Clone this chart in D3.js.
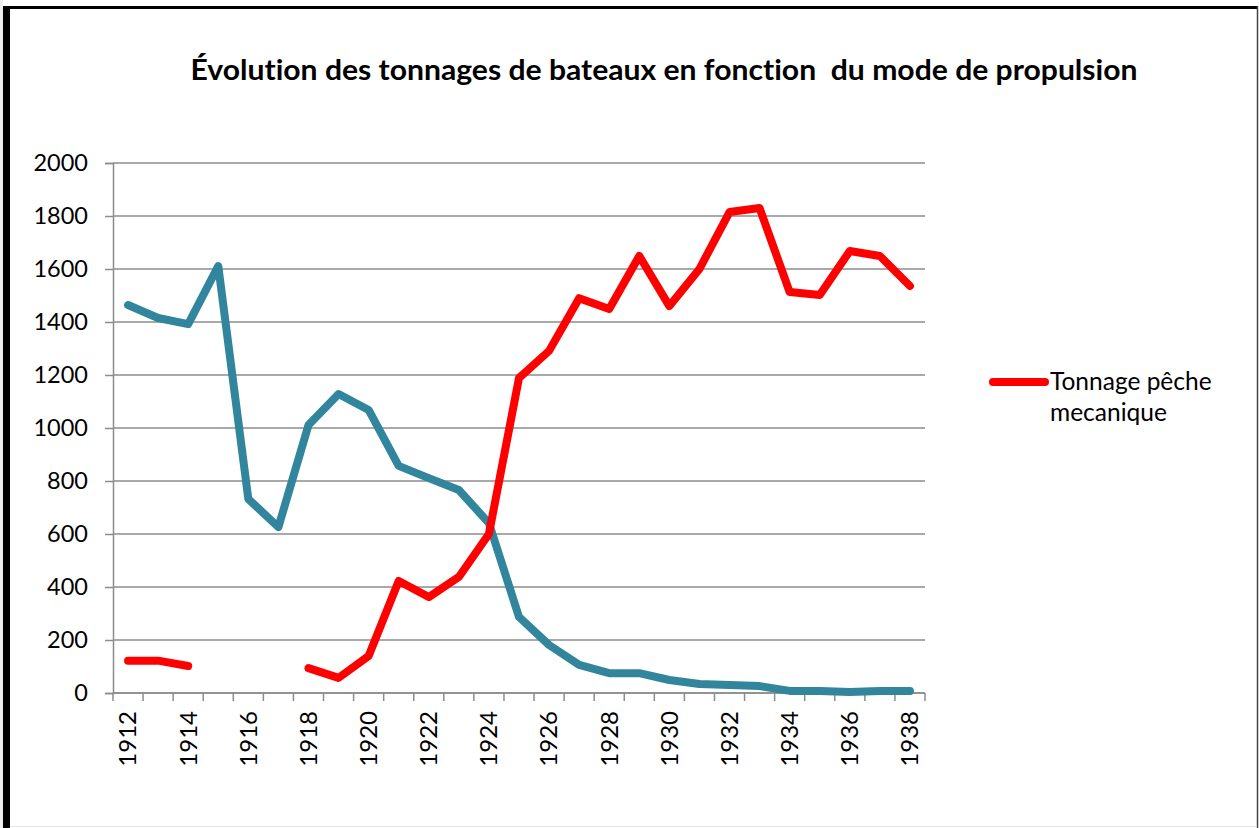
<!DOCTYPE html>
<html>
<head>
<meta charset="utf-8">
<script src="https://cdn.jsdelivr.net/npm/d3@7"></script>
<style>
  html, body { margin: 0; padding: 0; background: #fff; }
  svg { display: block; }
  text { font-family: Lato, "Open Sans", sans-serif; fill: #000; font-variant-ligatures: none; }
</style>
</head>
<body>
<div id="chart"></div>
<script>
const years = d3.range(1912, 1939);
const tickYears = years.filter(y => (y - 1912) % 2 === 0);
const yTicks = [0, 200, 400, 600, 800, 1000, 1200, 1400, 1600, 1800, 2000];

// series without a legend entry (blue)
const tonnageVoile = [1464, 1415, 1392, 1611, 732, 626, 1011, 1128, 1068, 857, 811, 766, 641,
    287, 181, 106, 75, 75, 49, 34, 30, 26, 8, 8, 4, 8, 8];
// "Tonnage pêche mecanique" (red), gap 1915-1917
const tonnageMecanique = [122, 122, 102, null, null, null, 94, 57, 140, 423, 362, 438, 600,
    1189, 1291, 1490, 1449, 1649, 1460, 1600, 1815, 1830, 1513, 1502, 1668, 1649, 1536];

const title = 'Évolution des tonnages de bateaux en fonction\u00a0 du mode de propulsion';
const legendLabel = ['Tonnage pêche', 'mecanique'];

const size = { w: 1259, h: 828 };
const plot = { left: 113, right: 925, top: 163, bottom: 693 };
const gridColor = '#8c8c8c';

const svg = d3.select('#chart').append('svg')
    .attr('width', size.w)
    .attr('height', size.h);

svg.append('rect').attr('width', size.w).attr('height', size.h).attr('fill', '#fff');

// frame
svg.append('rect').attr('x', 0).attr('y', 0).attr('width', 3).attr('height', size.h).attr('fill', '#eeeeee');
svg.append('rect').attr('x', 3).attr('y', 6).attr('width', 7).attr('height', size.h - 6).attr('fill', '#000');
svg.append('rect').attr('x', 3).attr('y', 6).attr('width', 1255).attr('height', 3).attr('fill', '#000');
svg.append('line').attr('x1', 1257.5).attr('x2', 1257.5).attr('y1', 6).attr('y2', size.h)
    .attr('stroke', '#444').attr('stroke-width', 1.5);
svg.append('line').attr('x1', 10).attr('x2', 1257).attr('y1', 826.5).attr('y2', 826.5)
    .attr('stroke', '#e6e6e6').attr('stroke-width', 1);

svg.append('text')
    .attr('x', 664)
    .attr('y', 80)
    .attr('text-anchor', 'middle')
    .attr('font-size', 29)
    .attr('font-weight', 'bold')
    .attr('textLength', 947)
    .attr('lengthAdjust', 'spacingAndGlyphs')
    .text(title);

const x = d3.scaleBand().domain(years).range([plot.left, plot.right]);
const y = d3.scaleLinear().domain([0, 2000]).range([plot.bottom, plot.top]);
const cx = d => x(d) + x.bandwidth() / 2;

// gridlines
svg.append('g')
    .selectAll('line')
    .data(yTicks)
    .enter().append('line')
    .attr('x1', plot.left).attr('x2', plot.right)
    .attr('y1', d => y(d)).attr('y2', d => y(d))
    .attr('stroke', gridColor).attr('stroke-width', 1.5);

// y axis
const yAxis = svg.append('g')
    .attr('transform', `translate(${plot.left}, 0)`)
    .call(d3.axisLeft(y).tickValues(yTicks).tickSize(8).tickPadding(17).tickFormat(d3.format('d')));
yAxis.select('.domain').attr('stroke', gridColor).attr('stroke-width', 1.5);
yAxis.selectAll('.tick line').attr('stroke', gridColor).attr('stroke-width', 1.5);
yAxis.selectAll('.tick text').attr('font-size', 23.5).attr('font-family', 'Lato').attr('fill', '#000');

// x axis: ticks on category boundaries
const xg = svg.append('g');
xg.append('line')
    .attr('x1', plot.left).attr('x2', plot.right)
    .attr('y1', plot.bottom).attr('y2', plot.bottom)
    .attr('stroke', gridColor).attr('stroke-width', 1.5);
xg.selectAll('.xtick')
    .data(years.concat([null]))
    .enter().append('line')
    .attr('x1', d => d === null ? plot.right : x(d))
    .attr('x2', d => d === null ? plot.right : x(d))
    .attr('y1', plot.bottom).attr('y2', plot.bottom + 8)
    .attr('stroke', gridColor).attr('stroke-width', 1.5);
xg.selectAll('.xlabel')
    .data(tickYears)
    .enter().append('text')
    .attr('transform', d => `translate(${cx(d)}, 711) rotate(-90)`)
    .attr('text-anchor', 'end')
    .attr('dy', '0.35em')
    .attr('font-size', 24)
    .text(d => d);

// lines
const line = d3.line()
    .defined(d => d.v !== null)
    .x(d => cx(d.year))
    .y(d => y(d.v));

const series = [
    { values: tonnageVoile, color: '#31859C' },
    { values: tonnageMecanique, color: '#FF0000' }
];

svg.selectAll('.series')
    .data(series)
    .enter().append('path')
    .attr('class', 'series')
    .attr('fill', 'none')
    .attr('stroke', s => s.color)
    .attr('stroke-width', 8)
    .attr('stroke-linejoin', 'round')
    .attr('stroke-linecap', 'round')
    .attr('d', s => line(years.map((year, i) => ({ year, v: s.values[i] }))));

// legend
const lg = svg.append('g');
lg.append('line')
    .attr('x1', 993).attr('x2', 1045)
    .attr('y1', 382).attr('y2', 382)
    .attr('stroke', '#FF0000').attr('stroke-width', 8).attr('stroke-linecap', 'round');
lg.selectAll('text')
    .data(legendLabel)
    .enter().append('text')
    .attr('x', 1050)
    .attr('y', (d, i) => 390 + i * 31)
    .attr('font-size', 24.5)
    .text(d => d);
</script>
</body>
</html>
